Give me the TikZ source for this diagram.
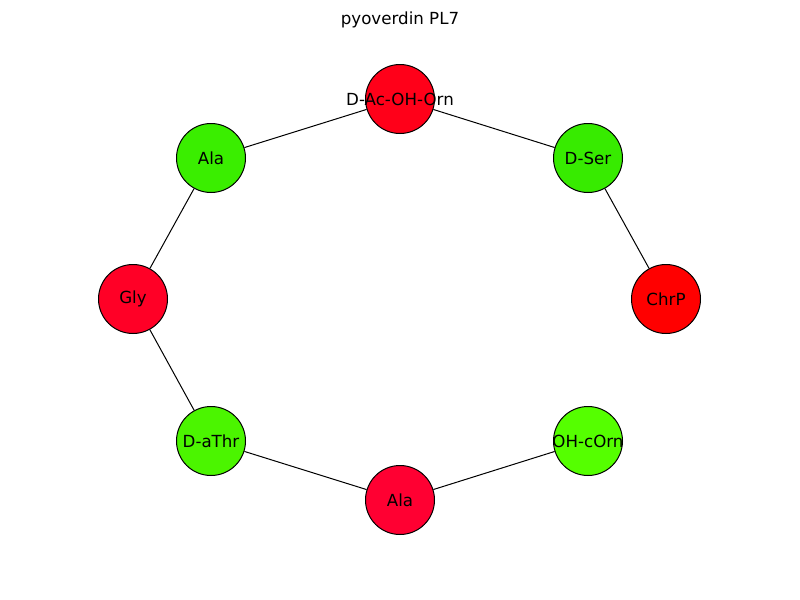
\documentclass[tikz,border=0pt]{standalone}
\usepackage{fontspec}
\setmainfont{DejaVu Sans}
\definecolor{r1}{RGB}{255,0,25}
\definecolor{r2}{RGB}{255,0,0}
\definecolor{r3}{RGB}{255,0,38}
\definecolor{r4}{RGB}{255,0,50}
\definecolor{g1}{RGB}{58,238,0}
\definecolor{g2}{RGB}{55,235,0}
\definecolor{g3}{RGB}{75,245,0}
\definecolor{g4}{RGB}{85,255,0}
\newcommand{\ctext}[1]{\makebox[0pt][c]{#1}}
\begin{document}
\begin{tikzpicture}[x=0.75pt,y=-0.75pt,
  nd/.style={circle,draw=black,line width=0.75pt,minimum size=51.75pt,inner sep=0pt,font=\fontsize{12.5}{14}\selectfont},
  ed/.style={draw=black,line width=0.75pt}]
\useasboundingbox (0,0) rectangle (800,600);
\node[font=\fontsize{12.5}{14}\selectfont] (title) at (400,20) {pyoverdin PL7};
\node[nd,fill=r1] (dac) at (400,99) {\ctext{D-Ac-OH-Orn}};
\node[nd,fill=g2] (dser) at (588,158) {\ctext{D-Ser}};
\node[nd,fill=r2] (chrp) at (666,299) {\ctext{ChrP}};
\node[nd,fill=g4] (ohc) at (588,441) {\ctext{OH-cOrn}};
\node[nd,fill=r4] (alab) at (400,500) {\ctext{Ala}};
\node[nd,fill=g3] (dath) at (211,441) {\ctext{D-aThr}};
\node[nd,fill=r3] (gly) at (133,299) {\ctext{Gly}};
\node[nd,fill=g1] (alat) at (211,158) {\ctext{Ala}};
\draw[ed] (dac) -- (alat);
\draw[ed] (dac) -- (dser);
\draw[ed] (dser) -- (chrp);
\draw[ed] (alat) -- (gly);
\draw[ed] (gly) -- (dath);
\draw[ed] (dath) -- (alab);
\draw[ed] (alab) -- (ohc);
\end{tikzpicture}
\end{document}
